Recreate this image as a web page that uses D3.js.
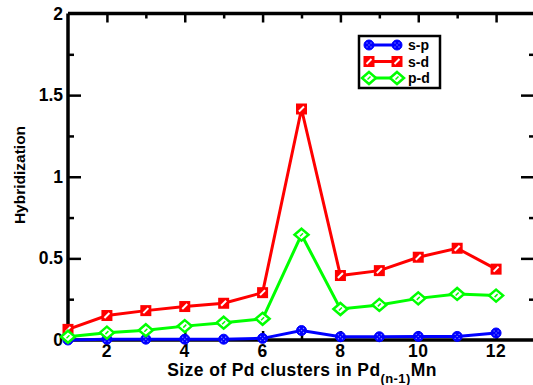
<!DOCTYPE html>
<html>
<head>
<meta charset="utf-8">
<script src="https://cdn.jsdelivr.net/npm/d3@7"></script>
<style>
  html, body { margin: 0; padding: 0; background: #fff; }
  svg { display: block; }
  text { font-family: "Liberation Sans", Arial, Helvetica, sans-serif; font-weight: bold; fill: #000; }
</style>
</head>
<body>
<svg id="chart" width="533" height="385"></svg>
<script>
// Cluster size n
const sizes = [1, 2, 3, 4, 5, 6, 7, 8, 9, 10, 11, 12];
// Hybridization per orbital pair
const spValues = [0.0, 0.005, 0.005, 0.005, 0.005, 0.01, 0.058, 0.02, 0.02, 0.022, 0.022, 0.043];
const sdValues = [0.065, 0.15, 0.18, 0.205, 0.225, 0.29, 1.415, 0.395, 0.425, 0.507, 0.562, 0.434];
const pdValues = [0.02, 0.045, 0.06, 0.085, 0.106, 0.13, 0.645, 0.19, 0.215, 0.255, 0.282, 0.272];
const seriesNames = ["s-p", "s-d", "p-d"];
const seriesColors = ["#0000ff", "#ff0000", "#00ff00"];
const xTickLabels = [2, 4, 6, 8, 10, 12];
const yTickLabels = [0, 0.5, 1, 1.5, 2];

const svg = d3.select("#chart");
const x = d3.scaleLinear().domain([1, 13]).range([68, 535]);
const y = d3.scaleLinear().domain([0, 2]).range([340, 13.5]);

const axisW = 3.5;
const fmt = d => d3.format("")(d);

// Frame lines
const frame = svg.append("g").attr("stroke", "#000").attr("stroke-width", axisW).attr("fill", "none");
frame.append("line").attr("x1", x(1)).attr("x2", x(13)).attr("y1", y(0)).attr("y2", y(0));
frame.append("line").attr("x1", x(1)).attr("x2", x(13)).attr("y1", y(2)).attr("y2", y(2));
frame.append("line").attr("x1", x(1)).attr("x2", x(1)).attr("y1", y(0)).attr("y2", y(2));
frame.append("line").attr("x1", x(13)).attr("x2", x(13)).attr("y1", y(0)).attr("y2", y(2));

// Inward ticks built from d3 axes
function styleAxis(g) {
  g.select(".domain").remove();
  g.selectAll(".tick line").attr("stroke", "#000").attr("stroke-width", 2.5);
  g.selectAll(".tick text").remove();
}
const xMajor = d3.range(2, 13, 2), xMinor = d3.range(3, 13, 2);
const yMajor = d3.range(0.5, 2, 0.5), yMinor = [0.25, 0.75, 1.25, 1.75];

svg.append("g").attr("transform", `translate(0,${y(0)})`)
  .call(d3.axisTop(x).tickValues(xMajor).tickSize(9)).call(styleAxis);
svg.append("g").attr("transform", `translate(0,${y(0)})`)
  .call(d3.axisTop(x).tickValues(xMinor).tickSize(5)).call(styleAxis);
svg.append("g").attr("transform", `translate(0,${y(2)})`)
  .call(d3.axisBottom(x).tickValues(xMajor).tickSize(9)).call(styleAxis);
svg.append("g").attr("transform", `translate(0,${y(2)})`)
  .call(d3.axisBottom(x).tickValues(xMinor).tickSize(5)).call(styleAxis);
svg.append("g").attr("transform", `translate(${x(1)},0)`)
  .call(d3.axisRight(y).tickValues(yMajor).tickSize(13)).call(styleAxis);
svg.append("g").attr("transform", `translate(${x(1)},0)`)
  .call(d3.axisRight(y).tickValues(yMinor).tickSize(6)).call(styleAxis);
svg.append("g").attr("transform", `translate(${x(13)},0)`)
  .call(d3.axisLeft(y).tickValues(yMajor).tickSize(14)).call(styleAxis);
svg.append("g").attr("transform", `translate(${x(13)},0)`)
  .call(d3.axisLeft(y).tickValues(yMinor).tickSize(6)).call(styleAxis);

// Tick labels
svg.append("g").selectAll("text").data(xTickLabels).join("text")
  .attr("x", d => x(d)).attr("y", 357)
  .attr("text-anchor", "middle").attr("font-size", 17.5).attr("letter-spacing", 0.6).text(fmt);
svg.append("g").selectAll("text").data(yTickLabels).join("text")
  .attr("x", 63).attr("y", d => y(d) + 6)
  .attr("text-anchor", "end").attr("font-size", 17.5).text(fmt);

// Axis titles
const xt = svg.append("text").attr("x", 302).attr("y", 375.5)
  .attr("text-anchor", "middle").attr("font-size", 17.5).attr("letter-spacing", 0.4);
xt.append("tspan").text("Size of Pd clusters in Pd");
xt.append("tspan").attr("font-size", 13).attr("dy", 7).text("(n-1)");
xt.append("tspan").attr("dy", -7).text("Mn");

svg.append("text").attr("transform", "translate(25,175) rotate(-90)")
  .attr("text-anchor", "middle").attr("font-size", 15.5).text("Hybridization");

// Marker shapes
function drawMarker(g, kind, color) {
  if (kind === 0) {
    g.append("circle").attr("r", 5).attr("fill", color).attr("stroke", color).attr("stroke-width", 1);
    [[-2, -2], [2, -2], [-2, 2], [2, 2], [0, 0]].forEach(([dx, dy]) =>
      g.append("circle").attr("cx", dx).attr("cy", dy).attr("r", 0.7).attr("fill", "#8080ff"));
  } else if (kind === 1) {
    g.append("rect").attr("x", -5.5).attr("y", -5.5).attr("width", 11).attr("height", 11)
      .attr("fill", color);
    g.append("line").attr("x1", -2.5).attr("y1", 2.5).attr("x2", 2.5).attr("y2", -2.5)
      .attr("stroke", "#fff").attr("stroke-width", 2);
  } else {
    g.append("path").attr("d", "M0,-6L7,0L0,6L-7,0Z")
      .attr("fill", "#fff").attr("stroke", color).attr("stroke-width", 2.5);
    g.append("line").attr("x1", -1.5).attr("y1", 1.5).attr("x2", 1.5).attr("y2", -1.5)
      .attr("stroke", color).attr("stroke-width", 1.5);
  }
}

const allSeries = [spValues, sdValues, pdValues];
const line = d3.line().x((d, i) => x(sizes[i])).y(d => y(d));

// Draw s-p first so the others sit on top in the order they appear
[0, 1, 2].forEach(k => {
  const vals = allSeries[k];
  const g = svg.append("g");
  g.append("path").datum(vals).attr("d", line)
    .attr("fill", "none").attr("stroke", seriesColors[k]).attr("stroke-width", 3);
  vals.forEach((v, i) => {
    const m = g.append("g").attr("transform", `translate(${x(sizes[i])},${y(v)})`);
    drawMarker(m, k, seriesColors[k]);
  });
});

// Legend
const lg = svg.append("g");
lg.append("rect").attr("x", 359).attr("y", 36).attr("width", 81).attr("height", 52)
  .attr("fill", "#fff").attr("stroke", "#000").attr("stroke-width", 2.5);
seriesNames.forEach((name, k) => {
  const yy = 45 + k * 16.5;
  lg.append("line").attr("x1", 369).attr("x2", 397).attr("y1", yy).attr("y2", yy)
    .attr("stroke", seriesColors[k]).attr("stroke-width", 3);
  [369, 397].forEach(xx => {
    const m = lg.append("g").attr("transform", `translate(${xx},${yy})`);
    drawMarker(m, k, seriesColors[k]);
  });
  lg.append("text").attr("x", 408).attr("y", yy + 5).attr("font-size", 14).text(name);
});
</script>
</body>
</html>
